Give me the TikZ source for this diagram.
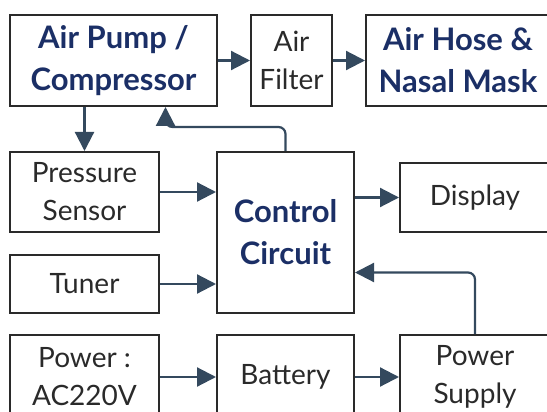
\documentclass[tikz,border=0pt]{standalone}
\usepackage{fontspec}
\setmainfont{Lato}
\usepackage{xcolor}
\usetikzlibrary{arrows.meta,calc,positioning}
\definecolor{navy}{HTML}{1B2F66}
\definecolor{linkblue}{HTML}{34495E}
\definecolor{boxgray}{HTML}{2A2A2A}

\begin{document}
\begin{tikzpicture}[x=1pt,y=-1pt,
  blk/.style={draw=boxgray,line width=2pt,align=center,inner sep=0pt,
    text=boxgray,font=\fontsize{28}{38}\selectfont},
  mainblk/.style={blk,text=navy,font=\fontsize{31}{42}\selectfont\bfseries},
  link/.style={draw=linkblue,line width=2.2pt,-{Triangle[length=19pt,width=19pt]}}]
  \useasboundingbox (0,0) rectangle (547,412);
  \clip (0,0) rectangle (547,412);
  % air path
  \node[mainblk,minimum width=207pt,minimum height=91pt] (pump) at (113.5,60.5) {Air Pump /\\Compressor};
  \node[blk,minimum width=81pt,minimum height=91pt] (filter) at (291.5,60.5) {Air\\Filter};
  \node[mainblk,minimum width=184pt,minimum height=91pt] (hose) at (458,60.5) {Air Hose \&\\Nasal Mask};
  % control
  \node[blk,minimum width=149pt,minimum height=80pt] (sensor) at (84.5,192) {Pressure\\Sensor};
  \node[blk,minimum width=149pt,minimum height=58pt] (tuner) at (84.5,284) {Tuner};
  \node[mainblk,minimum width=137pt,minimum height=161pt] (ctrl) at (285.5,232.5) {Control\\Circuit};
  \node[blk,minimum width=150pt,minimum height=69pt] (display) at (475,197.5) {Display};
  % power
  \node[blk,minimum width=149pt,minimum height=84pt] (mains) at (84.5,377) {Power :\\AC220V};
  \node[blk,minimum width=137pt,minimum height=84pt] (battery) at (285.5,377) {Battery};
  \node[blk,minimum width=150pt,minimum height=84pt] (supply) at (475,377) {Power\\Supply};

  \draw[link] (pump) -- (filter);
  \draw[link] (filter) -- (hose);
  \draw[link] (pump.south -| sensor.north) -- (sensor.north);
  \draw[link,rounded corners=7pt] (ctrl.north) -- ++(0,-24) -| ([xshift=52pt]pump.south);
  \draw[link] (sensor.east) -- (sensor.east -| ctrl.west);
  \draw[link] (tuner.east) -- (tuner.east -| ctrl.west);
  \draw[link] (ctrl.east |- display) -- (display.west);
  \draw[link,rounded corners=7pt] (supply.north) |- ([yshift=-40pt]ctrl.east);
  \draw[link] (mains) -- (battery);
  \draw[link] (battery) -- (supply);
\end{tikzpicture}
\end{document}
